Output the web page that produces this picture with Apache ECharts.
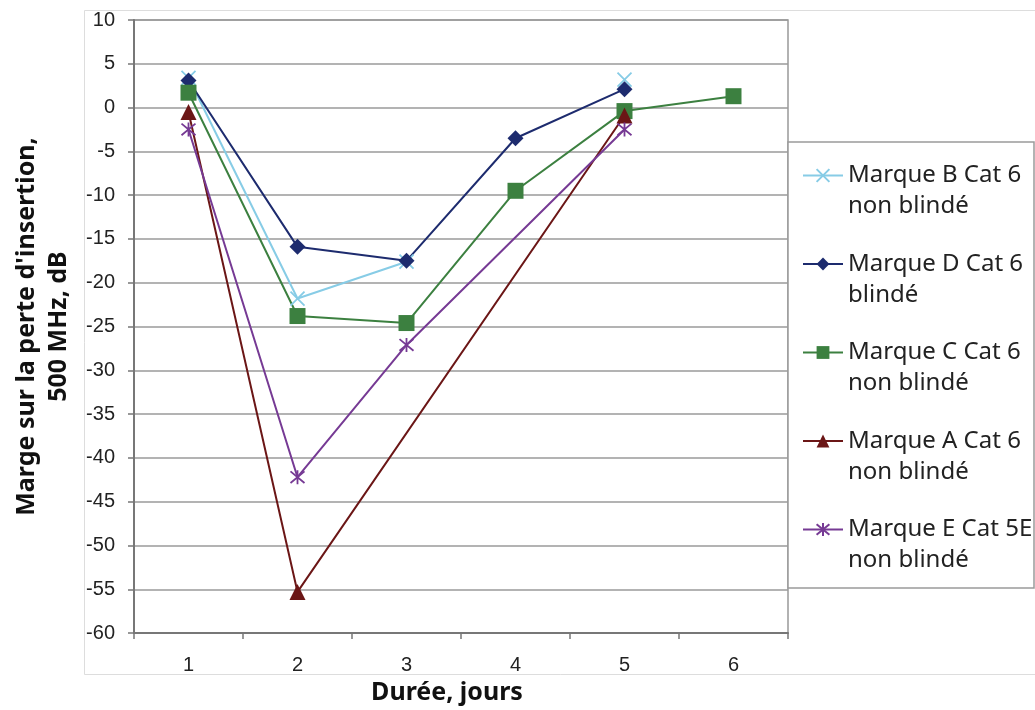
<!DOCTYPE html>
<html>
<head>
<meta charset="utf-8">
<script src="https://cdn.jsdelivr.net/npm/echarts@6/dist/echarts.min.js"></script>
<style>
html,body{margin:0;padding:0;background:#fff;}
#chart{width:1035px;height:710px;}
</style>
</head>
<body>
<div id="chart"></div>
<script>
// ---- data ----
const categories = ['1', '2', '3', '4', '5', '6'];
const seriesNames = [
  'Marque B Cat 6\nnon blindé',
  'Marque D Cat 6\nblindé',
  'Marque C Cat 6\nnon blindé',
  'Marque A Cat 6\nnon blindé',
  'Marque E Cat 5E\nnon blindé'
];
const marqueB = [3.4, -21.8, -17.6, null, 3.2, null];
const marqueD = [3.1, -15.9, -17.5, -3.5, 2.1, null];
const marqueC = [1.7, -23.8, -24.6, -9.5, -0.4, 1.3];
const marqueA = [-0.5, -55.3, null, null, -0.9, null];
const marqueE = [-2.5, -42.2, -27.1, null, -2.5, null];
const yTicks = { min: -60, max: 10, interval: 5 };
const xTitle = 'Durée, jours';
const yTitle = "Marge sur la perte d'insertion,\n500 MHz, dB";

// ---- styles ----
const colors = ['#87CCE6', '#1D2B6E', '#3C8040', '#6B1616', '#763A94'];
const crossPath = 'path://M0,0L10,10M10,0L0,10';
const starPath = 'path://M0,0L10,10M10,0L0,10M5,-1L5,11';

function mk(i, data, symbol, size, connect, hollow) {
  return {
    name: seriesNames[i],
    type: 'line',
    data: data,
    connectNulls: connect,
    symbol: symbol,
    symbolSize: size,
    showAllSymbol: true,
    lineStyle: { color: colors[i], width: 2 },
    itemStyle: hollow
      ? { color: 'rgba(0,0,0,0)', borderColor: colors[i], borderWidth: 1.8 }
      : { color: colors[i], borderColor: colors[i], borderWidth: 0 },
    emphasis: { disabled: true },
    animation: false
  };
}

const chart = echarts.init(document.getElementById('chart'), null, { renderer: 'canvas' });
chart.setOption({
  animation: false,
  backgroundColor: '#fff',
  graphic: [
    { type: 'rect', z: -10, silent: true,
      shape: { x: 84.5, y: 10.5, width: 1000, height: 664 },
      style: { fill: '#fff', stroke: '#dddddd', lineWidth: 1 } },
    { type: 'rect', z: 1, silent: true,
      shape: { x: 788, y: 142, width: 246, height: 446 },
      style: { fill: '#fff', stroke: '#9a9a9a', lineWidth: 1.5 } }
  ],
  grid: {
    left: 134, right: 1035 - 788, top: 20, bottom: 710 - 636,
    show: true, borderColor: '#999', borderWidth: 1.5, backgroundColor: 'transparent'
  },
  legend: {
    orient: 'vertical',
    left: 802, top: 129,
    padding: 0,
    itemWidth: 40, itemHeight: 16,
    itemGap: -4.5,
    z: 10,
    data: seriesNames,
    formatter: n => ' \n' + n,
    textStyle: { fontFamily: 'Noto Sans', fontSize: 24, color: '#222', lineHeight: 31 },
    inactiveColor: '#ccc'
  },
  xAxis: {
    type: 'category',
    data: categories,
    boundaryGap: true,
    name: xTitle,
    nameLocation: 'middle',
    nameGap: 46,
    nameTextStyle: { fontFamily: 'Noto Sans', fontWeight: 'bold', fontSize: 25, color: '#111', padding: [0, 28, 0, 0] },
    axisLine: { onZero: false, lineStyle: { color: '#777', width: 2 } },
    axisTick: { show: true, alignWithLabel: false, length: 6, lineStyle: { color: '#777', width: 1.5 } },
    axisLabel: { margin: 22, fontFamily: 'Liberation Sans', fontSize: 20, color: '#222' },
    splitLine: { show: false }
  },
  yAxis: {
    type: 'value',
    min: yTicks.min, max: yTicks.max, interval: yTicks.interval,
    name: yTitle,
    nameLocation: 'middle',
    nameRotate: 90,
    nameGap: 56,
    nameTextStyle: { fontFamily: 'Noto Sans', fontWeight: 'bold', fontSize: 25, color: '#111', lineHeight: 32 },
    axisLine: { show: true, lineStyle: { color: '#777', width: 2 } },
    axisTick: { show: true, length: 6, lineStyle: { color: '#777', width: 1.5 } },
    axisLabel: { margin: 19, fontFamily: 'Liberation Sans', fontSize: 20, color: '#222' },
    splitLine: { show: true, lineStyle: { color: '#9a9a9a', width: 1.5 } }
  },
  series: [
    mk(0, marqueB, crossPath, 14, false, true),
    mk(1, marqueD, 'diamond', 16, true, false),
    mk(2, marqueC, 'rect', 16, true, false),
    mk(3, marqueA, 'triangle', 16, true, false),
    mk(4, marqueE, starPath, 14, true, true)
  ]
});
</script>
</body>
</html>
